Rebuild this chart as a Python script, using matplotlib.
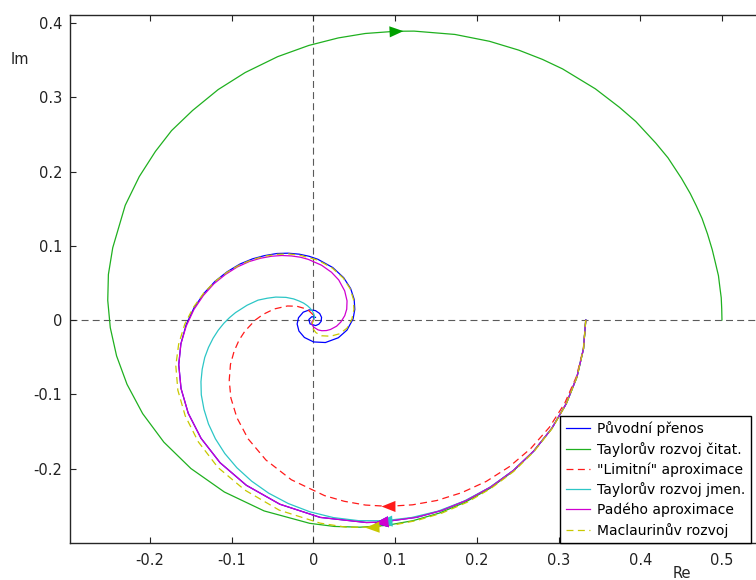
import numpy as np
import matplotlib
matplotlib.use("Agg")
import matplotlib.pyplot as plt
from matplotlib.markers import MarkerStyle
from matplotlib.transforms import Affine2D

plt.rcParams['font.family'] = ['DejaVu Sans']
plt.rcParams['lines.scale_dashes'] = False

# Nyquist loci (Re, Im) of the original transfer function and its approximations
re_orig = [0.3333, 0.3305, 0.3225, 0.3094, 0.2917, 0.2699, 0.2448, 0.2171, 0.1875, 0.1566,
           0.1261, 0.0829, 0.0647, 0.0082, -0.0411, -0.0821, -0.1143, -0.1376, -0.1533, -0.1621,
           -0.1649, -0.1623, -0.1558, -0.1461, -0.1340, -0.1204, -0.1055, -0.0900, -0.0746, -0.0601,
           -0.0447, -0.0308, -0.0175, -0.0055, 0.0054, 0.0236, 0.0370, 0.0455, 0.0498, 0.0506,
           0.0485, 0.0410, 0.0304, 0.0146, 0.0001, -0.0111, -0.0178, -0.0200, -0.0183, -0.0125,
           -0.0048, 0.0024, 0.0076, 0.0099, 0.0094, 0.0066, 0.0027, -0.0042, -0.0057, -0.0020, 0.0025]
im_orig = [0.0, -0.0387, -0.0765, -0.1126, -0.1460, -0.1761, -0.2025, -0.2248, -0.2428, -0.2566,
           -0.2657, -0.2722, -0.2727, -0.2658, -0.2481, -0.2226, -0.1922, -0.1593, -0.1255, -0.0922,
           -0.0602, -0.0322, -0.0061, 0.0166, 0.0360, 0.0522, 0.0651, 0.0754, 0.0824, 0.0867,
           0.0896, 0.0900, 0.0887, 0.0859, 0.0818, 0.0707, 0.0570, 0.0424, 0.0279, 0.0143,
           0.0015, -0.0136, -0.0239, -0.0303, -0.0295, -0.0235, -0.0148, -0.0053, 0.0031, 0.0106,
           0.0137, 0.0127, 0.0088, 0.0036, -0.0017, -0.0056, -0.0075, -0.0052, 0.0007, 0.0045, 0.0036]

re_taylor_num = [0.3333, 0.3305, 0.3225, 0.3094, 0.2915, 0.2695, 0.2441, 0.2160, 0.1856, 0.1538,
                 0.1219, 0.0892, 0.0569, 0.0256, -0.0046, -0.0604, -0.1091, -0.1500, -0.1831, -0.2091,
                 -0.2282, -0.2410, -0.2487, -0.2518, -0.2510, -0.2457, -0.2304, -0.2132, -0.1935, -0.1737,
                 -0.1480, -0.1166, -0.0836, -0.0438, -0.0057, 0.0303, 0.0634, 0.1006, 0.1231, 0.1732,
                 0.2154, 0.2512, 0.2803, 0.3049, 0.3450, 0.3746, 0.3945, 0.4190, 0.4339, 0.4504,
                 0.4612, 0.4685, 0.4756, 0.4823, 0.4881, 0.4917, 0.4957, 0.4976, 0.4991, 0.4997, 0.5000]
im_taylor_num = [0.0, -0.0387, -0.0767, -0.1127, -0.1464, -0.1767, -0.2039, -0.2267, -0.2455, -0.2601,
                 -0.2702, -0.2766, -0.2790, -0.2780, -0.2738, -0.2571, -0.2316, -0.2000, -0.1645, -0.1260,
                 -0.0866, -0.0483, -0.0103, 0.0264, 0.0614, 0.0973, 0.1545, 0.1932, 0.2270, 0.2551,
                 0.2822, 0.3104, 0.3333, 0.3547, 0.3698, 0.3799, 0.3859, 0.3889, 0.3891, 0.3846,
                 0.3754, 0.3635, 0.3510, 0.3382, 0.3114, 0.2864, 0.2674, 0.2383, 0.2185, 0.1909,
                 0.1703, 0.1540, 0.1368, 0.1159, 0.0947, 0.0783, 0.0597, 0.0427, 0.0300, 0.0150, 0.0]

re_limit = [0.3333, 0.3303, 0.3218, 0.3076, 0.2889, 0.2660, 0.2398, 0.2114, 0.1815, 0.1508,
            0.1211, 0.0915, 0.0637, 0.0376, 0.0136, -0.0271, -0.0582, -0.0800, -0.0937, -0.1011,
            -0.1031, -0.1016, -0.0972, -0.0911, -0.0840, -0.0712, -0.0615, -0.0480, -0.0319, -0.0205,
            -0.0110, -0.0064, -0.0014, 0.0003, 0.0006, 0.0]
im_limit = [0.0, -0.0387, -0.0763, -0.1119, -0.1443, -0.1730, -0.1975, -0.2174, -0.2325, -0.2431,
            -0.2489, -0.2509, -0.2492, -0.2441, -0.2365, -0.2151, -0.1885, -0.1600, -0.1316, -0.1049,
            -0.0810, -0.0598, -0.0423, -0.0271, -0.0151, 0.0, 0.0077, 0.0149, 0.0189, 0.0186,
            0.0156, 0.0132, 0.0082, 0.0046, 0.0013, 0.0]

re_taylor_den = [0.3333, 0.3305, 0.3225, 0.3094, 0.2914, 0.2695, 0.2436, 0.2151, 0.1844, 0.1522,
                 0.1200, 0.0871, 0.0551, 0.0245, -0.0043, -0.0309, -0.0548, -0.0757, -0.0937, -0.1085,
                 -0.1200, -0.1285, -0.1340, -0.1373, -0.1377, -0.1362, -0.1331, -0.1285, -0.1229, -0.1166,
                 -0.1098, -0.1026, -0.0954, -0.0813, -0.0678, -0.0564, -0.0461, -0.0336, -0.0242, -0.0173,
                 -0.0119, -0.0071, -0.0039, -0.0015, -0.0002, 0.0006, 0.0010, 0.0011, 0.0004, 0.0]
im_taylor_den = [0.0, -0.0387, -0.0767, -0.1127, -0.1463, -0.1767, -0.2035, -0.2258, -0.2439, -0.2575,
                 -0.2660, -0.2703, -0.2702, -0.2661, -0.2583, -0.2471, -0.2332, -0.2170, -0.1990, -0.1798,
                 -0.1600, -0.1400, -0.1204, -0.1007, -0.0830, -0.0663, -0.0505, -0.0369, -0.0246, -0.0138,
                 -0.0045, 0.0034, 0.0100, 0.0199, 0.0268, 0.0294, 0.0309, 0.0305, 0.0284, 0.0255,
                 0.0227, 0.0190, 0.0157, 0.0123, 0.0096, 0.0075, 0.0059, 0.0024, 0.0008, 0.0]

re_pade = [0.3333, 0.3305, 0.3225, 0.3094, 0.2917, 0.2699, 0.2448, 0.2171, 0.1875, 0.1566,
           0.1261, 0.0829, 0.0647, 0.0082, -0.0411, -0.0821, -0.1143, -0.1376, -0.1533, -0.1621,
           -0.1649, -0.1623, -0.1557, -0.1463, -0.1348, -0.1218, -0.1077, -0.0932, -0.0785, -0.0648,
           -0.0514, -0.0387, -0.0269, -0.0160, -0.0064, 0.0099, 0.0221, 0.0309, 0.0382, 0.0411,
           0.0407, 0.0383, 0.0335, 0.0283, 0.0209, 0.0158, 0.0102, 0.0057, 0.0002, -0.0016,
           -0.0021, -0.0017, 0.0]
im_pade = [0.0, -0.0387, -0.0765, -0.1126, -0.1460, -0.1761, -0.2025, -0.2248, -0.2428, -0.2566,
           -0.2657, -0.2722, -0.2727, -0.2658, -0.2481, -0.2226, -0.1922, -0.1593, -0.1255, -0.0922,
           -0.0602, -0.0322, -0.0081, 0.0142, 0.0330, 0.0489, 0.0614, 0.0715, 0.0788, 0.0832,
           0.0859, 0.0869, 0.0863, 0.0846, 0.0817, 0.0738, 0.0643, 0.0540, 0.0393, 0.0258,
           0.0146, 0.0059, -0.0027, -0.0083, -0.0127, -0.0142, -0.0144, -0.0133, -0.0095, -0.0065,
           -0.0038, -0.0018, 0.0]

re_maclaurin = [0.3333, 0.3305, 0.3225, 0.3094, 0.2917, 0.2699, 0.2450, 0.2172, 0.1880, 0.1573,
                0.1265, 0.0960, 0.0720, 0.0400, 0.0080, -0.0420, -0.0840, -0.1170, -0.1410, -0.1570,
                -0.1660, -0.1685, -0.1650, -0.1575, -0.1470, -0.1345, -0.1205, -0.1055, -0.0900, -0.0745,
                -0.0595, -0.0445, -0.0305, -0.0175, 0.0050, 0.0230, 0.0365, 0.0450, 0.0490, 0.0495,
                0.0470, 0.0410, 0.0320, 0.0210, 0.0100, 0.0030, -0.0010, -0.0015, 0.0]
im_maclaurin = [0.0, -0.0390, -0.0770, -0.1130, -0.1468, -0.1772, -0.2040, -0.2268, -0.2455, -0.2600,
                -0.2700, -0.2765, -0.2790, -0.2790, -0.2735, -0.2560, -0.2290, -0.1985, -0.1640, -0.1290,
                -0.0945, -0.0615, -0.0325, -0.0055, 0.0170, 0.0360, 0.0520, 0.0645, 0.0745, 0.0815,
                0.0860, 0.0885, 0.0890, 0.0875, 0.0808, 0.0700, 0.0565, 0.0420, 0.0275, 0.0140,
                0.0010, -0.0110, -0.0185, -0.0218, -0.0212, -0.0170, -0.0110, -0.0050, 0.0]

labels = ['Původní přenos', 'Taylorův rozvoj čitat.', '"Limitní" aproximace',
          'Taylorův rozvoj jmen.', 'Padého aproximace', 'Maclaurinův rozvoj']

x_ticks = [-0.2, -0.1, 0, 0.1, 0.2, 0.3, 0.4, 0.5]
y_ticks = [-0.2, -0.1, 0, 0.1, 0.2, 0.3, 0.4]

W, H = 756, 580
fig = plt.figure(figsize=(W / 100, H / 100), dpi=100)
ax = fig.add_axes([70 / W, (H - 543.3) / H, 692 / W, 528.3 / H])
ax.set_xlim(-0.298, 0.549)
ax.set_ylim(-0.3007, 0.4108)

# dashed crosshair through the origin
grid_kw = dict(color='#5a5a5a', lw=0.8, dashes=(5, 3), zorder=1)
ax.axhline(0, **grid_kw)
ax.axvline(0, **grid_kw)

# (re, im, colour, dash pattern, index of the direction arrow)
series = [
    (re_orig, im_orig, '#0000ff', None, 11),
    (re_taylor_num, im_taylor_num, '#1fb01f', None, 37),
    (re_limit, im_limit, '#ff1a1a', (5, 3.2), 11),
    (re_taylor_den, im_taylor_den, '#2cc6c6', None, 11),
    (re_pade, im_pade, '#d000d0', None, 11),
    (re_maclaurin, im_maclaurin, '#c8c800', (5, 3.2), 12),
]

arrow_verts = [(1.0, 0.0), (-1.0, 0.8), (-1.0, -0.8), (1.0, 0.0)]
handles = []
for (xs, ys, col, dash, ai), lab in zip(series, labels):
    kw = dict(color=col, lw=0.9, zorder=3, label=lab)
    if dash is not None:
        kw['dashes'] = dash
    line, = ax.plot(xs, ys, **kw)
    handles.append(line)
    # direction arrow along the locus
    p0 = ax.transData.transform((xs[ai - 1], ys[ai - 1]))
    p1 = ax.transData.transform((xs[ai + 1], ys[ai + 1]))
    ang = np.degrees(np.arctan2(p1[1] - p0[1], p1[0] - p0[0]))
    mk = MarkerStyle(arrow_verts, transform=Affine2D().rotate_deg(ang))
    ax.plot([xs[ai]], [ys[ai]], linestyle='none', marker=mk, markersize=10,
            color=col if col != '#1fb01f' else '#00a000', markeredgewidth=0, zorder=4)

ax.set_xticks(x_ticks)
ax.set_yticks(y_ticks)
ax.set_xticklabels(['-0.2', '-0.1', '0', '0.1', '0.2', '0.3', '0.4', '0.5'])
ax.set_yticklabels(['-0.2', '-0.1', '0', '0.1', '0.2', '0.3', '0.4'])
ax.tick_params(direction='in', length=4.5, width=0.8, top=True, right=True,
               labelsize=10.5, colors='#222222')
ax.tick_params(axis='x', pad=7)
ax.tick_params(axis='y', pad=5.5)
for sp in ax.spines.values():
    sp.set_linewidth(1.0)
    sp.set_color('#262626')

fig.text(20 / W, 1 - 60 / H, 'Im', ha='center', va='center', fontsize=10.5, color='#222222')
fig.text(682 / W, 1 - 566 / H, 'Re', ha='center', va='top', fontsize=10.5, color='#222222')

leg = ax.legend(handles, labels, loc='lower left', bbox_to_anchor=((560 - 70) / 692, 0.0),
                borderaxespad=0, fontsize=10, handlelength=1.75, handletextpad=0.5,
                borderpad=0.4, labelspacing=0.4, fancybox=False, framealpha=1)
leg.get_frame().set_edgecolor('black')
leg.get_frame().set_linewidth(1.0)
leg.set_zorder(10)

fig.savefig('out.png', dpi=100)
